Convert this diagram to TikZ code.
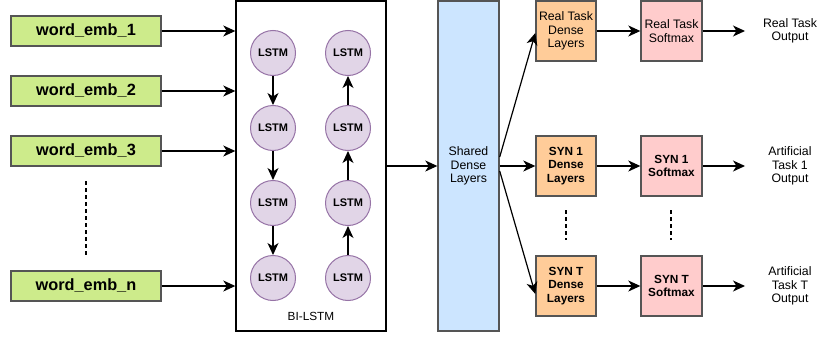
\documentclass[tikz,border=0pt]{standalone}
\usepackage{fontspec}
\setmainfont{Liberation Sans}
\usetikzlibrary{arrows.meta}
\definecolor{embfill}{HTML}{CDEB8B}
\definecolor{lstmfill}{HTML}{E1D5E7}
\definecolor{lstmdraw}{HTML}{9673A6}
\definecolor{sharedfill}{HTML}{CCE5FF}
\definecolor{densefill}{HTML}{FFCC99}
\definecolor{softfill}{HTML}{FFCCCC}
\definecolor{boxdraw}{HTML}{555555}
\tikzset{
  embbox/.style={draw=boxdraw, fill=embfill, line width=1.4pt, minimum width=150pt, minimum height=30pt, inner sep=0pt, font=\fontsize{16.3}{18}\selectfont\bfseries},
  lstmnode/.style={circle, draw=lstmdraw, fill=lstmfill, line width=1pt, minimum size=45pt, inner sep=0pt, font=\fontsize{11}{13}\selectfont\bfseries},
  densebox/.style={draw=boxdraw, fill=densefill, line width=1.4pt, minimum width=60pt, minimum height=60pt, inner sep=0pt, align=center},
  softbox/.style={draw=boxdraw, fill=softfill, line width=1.4pt, minimum width=61pt, minimum height=60pt, inner sep=0pt, align=center},
  regtxt/.style={font=\fontsize{12.3}{13.5}\selectfont},
  boldtxt/.style={font=\fontsize{11.8}{13.5}\selectfont\bfseries},
  outtxt/.style={align=center, inner sep=0pt, font=\fontsize{12.3}{13.3}\selectfont},
  arr/.style={-{Stealth[length=12pt,width=11pt,inset=3.5pt]}, line width=1.2pt, black},
  dots/.style={line width=1.2pt, dash pattern=on 4pt off 3pt},
}
\begin{document}
\begin{tikzpicture}[x=1pt,y=-1pt]
\useasboundingbox (0,0) rectangle (819,337);
% inputs
\node[embbox] (e1) at (86,31) {word\_emb\_1};
\node[embbox] (e2) at (86,91) {word\_emb\_2};
\node[embbox] (e3) at (86,151) {word\_emb\_3};
\node[embbox] (en) at (86,286) {word\_emb\_n};
\coordinate (d1a) at (86,181);
\coordinate (d1b) at (86,255);
\draw[dots] (d1a) -- (d1b);
% BI-LSTM container
\node[draw=black, line width=1.4pt, fill=white, minimum width=150pt, minimum height=330pt, inner sep=0pt] (bil) at (311,166) {};
\node[font=\fontsize{11.8}{13}\selectfont] (bilabel) at (311,316) {BI-LSTM};
% LSTM cells
\foreach \i/\y in {1/53,2/128,3/203,4/278}{
  \node[lstmnode] (l\i) at (273,\y) {LSTM};
  \node[lstmnode] (r\i) at (348,\y) {LSTM};
}
\draw[arr] (l1) -- (l2);
\draw[arr] (l2) -- (l3);
\draw[arr] (l3) -- (l4);
\draw[arr] (r4) -- (r3);
\draw[arr] (r3) -- (r2);
\draw[arr] (r2) -- (r1);
% input arrows
\foreach \n in {e1,e2,e3,en}{
  \draw[arr] (\n.east) -- (\n.east -| bil.west);
}
% shared
\node[draw=boxdraw, fill=sharedfill, line width=1.4pt, minimum width=61pt, minimum height=330pt, inner sep=0pt, align=center, regtxt] (sh) at (468.5,166) {Shared\\Dense\\Layers};
\draw[arr] (bil.east) -- (bil.east -| sh.west);
% tasks
\node[densebox, regtxt] (rd) at (566,31) {Real Task\\Dense\\Layers};
\node[softbox, regtxt] (rs) at (671.5,31) {Real Task\\Softmax};
\node[outtxt] (ro) at (790,31) {Real Task\\Output};
\node[densebox, boldtxt] (s1d) at (566,166) {SYN 1\\Dense\\Layers};
\node[softbox, boldtxt] (s1s) at (671.5,166) {SYN 1\\Softmax};
\node[outtxt] (s1o) at (790,166) {Artificial\\Task 1\\Output};
\node[densebox, boldtxt] (std) at (566,286) {SYN T\\Dense\\Layers};
\node[softbox, boldtxt] (sts) at (671.5,286) {SYN T\\Softmax};
\node[outtxt] (sto) at (790,286) {Artificial\\Task T\\Output};
% dotted
\coordinate (d2a) at (566,210);
\coordinate (d2b) at (566,240);
\coordinate (d3a) at (671,210);
\coordinate (d3b) at (671,240);
\draw[dots] (d2a) -- (d2b);
\draw[dots] (d3a) -- (d3b);
% shared to heads
\draw[arr] ([yshift=9pt]sh.east) -- ([yshift=-2pt]rd.west);
\draw[arr] (sh.east) -- (s1d.west);
\draw[arr] ([yshift=-5pt]sh.east) -- ([yshift=-8pt]std.west);
% dense to softmax
\draw[arr] (rd) -- (rs);
\draw[arr] (s1d) -- (s1s);
\draw[arr] (std) -- (sts);
% softmax to output
\coordinate (ro0) at (745,31);
\coordinate (s1o0) at (745,166);
\coordinate (sto0) at (745,286);
\draw[arr] (rs.east) -- (ro0);
\draw[arr] (s1s.east) -- (s1o0);
\draw[arr] (sts.east) -- (sto0);
\end{tikzpicture}
\end{document}
